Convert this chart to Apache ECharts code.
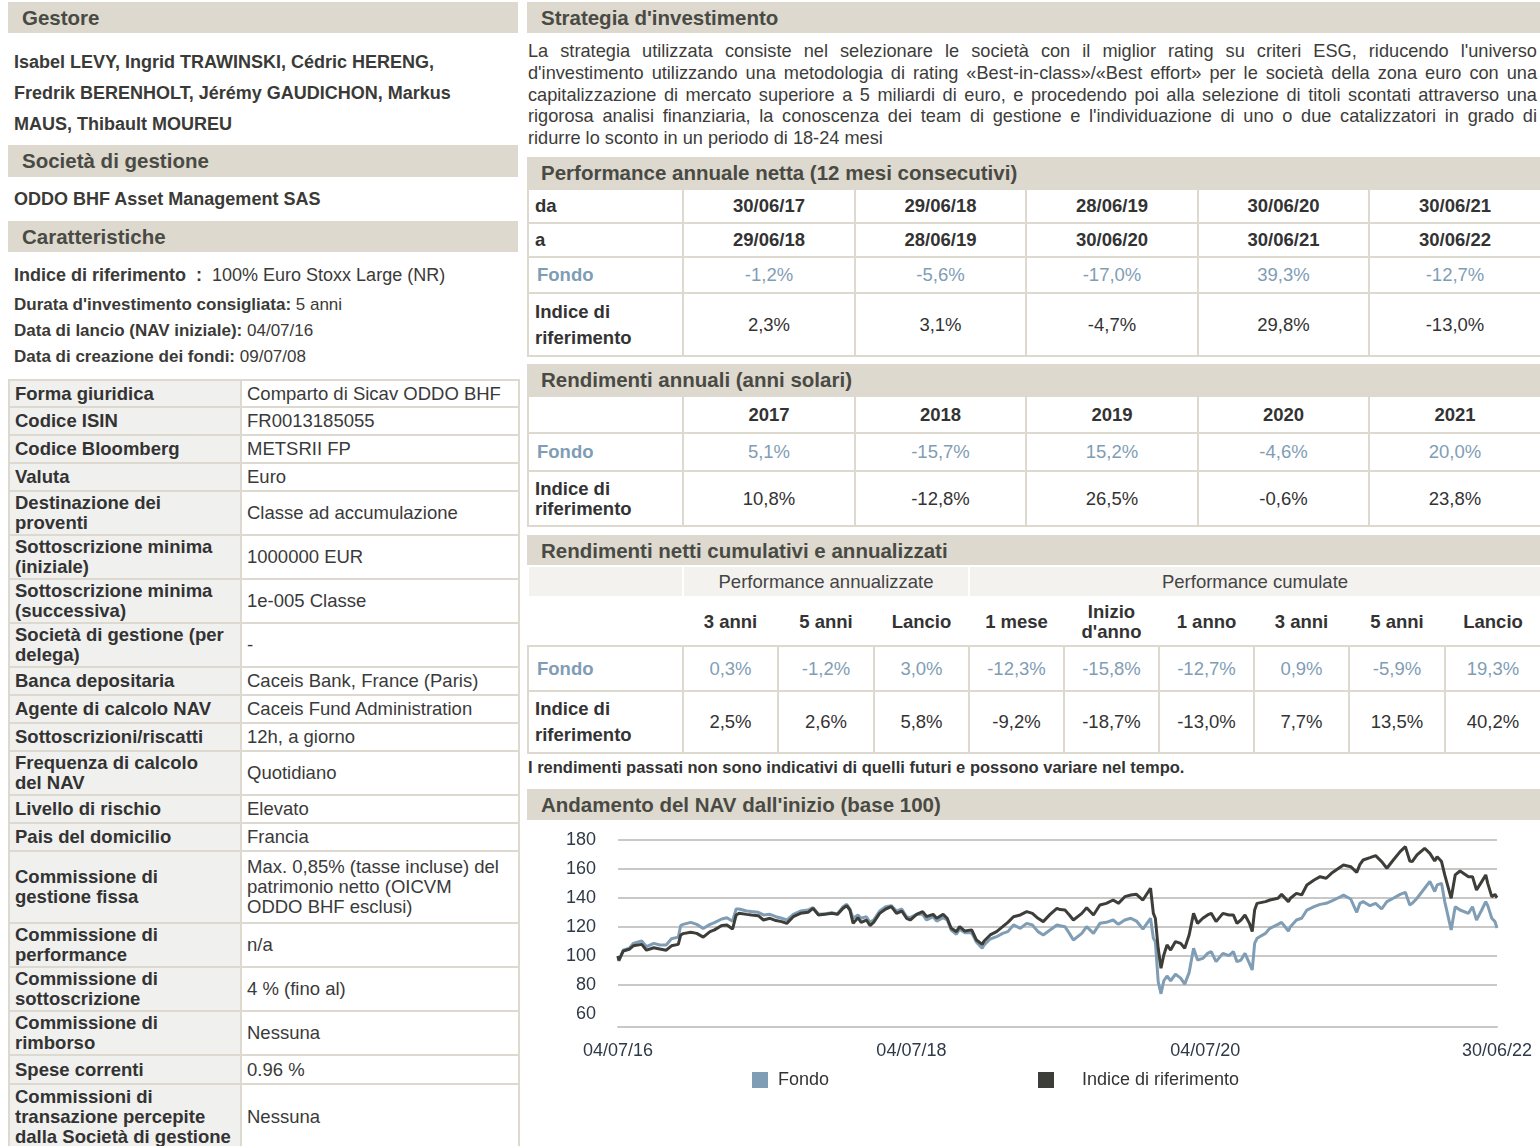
<!DOCTYPE html>
<html>
<head>
<meta charset="utf-8">
<script src="https://cdn.jsdelivr.net/npm/echarts@6/dist/echarts.min.js"></script>
<style>
body { margin: 0; width: 1540px; height: 1146px; overflow: hidden; background: #fff; font-family: "Liberation Sans", Arial, sans-serif; color: #3a3a37; position: relative; }
.hdr { position: absolute; background: #ddd9ce; font-weight: bold; font-size: 20.5px; color: #4a4a44; padding-left: 14px; box-sizing: border-box; }
.txt { position: absolute; font-size: 18px; white-space: nowrap; }
.b { font-weight: bold; }
.para { position: absolute; left: 528px; width: 1009px; font-size: 18.2px; line-height: 21.75px; color: #3c3c3a; }
.para div { text-align: justify; text-align-last: justify; height: 21.75px; }
.para div.last { text-align-last: left; }
table { position: absolute; border-collapse: collapse; table-layout: fixed; font-size: 18.5px; }
.lt td { border: 2px solid #ddd9ce; padding: 0 5px; line-height: 20px; vertical-align: middle; }
.lt td.l { background: #f0f0ee; font-weight: bold; color: #333; }
.lt td.v { background: #fff; color: #3a3a3a; }
.rt td { border: 2px solid #ddd9ce; text-align: center; vertical-align: middle; padding: 0; color: #333; }
.rt td.l { text-align: left; padding-left: 6px; font-weight: bold; line-height: 26px; }
.rt .h { font-weight: bold; }
.rt .f { color: #7f9db5; }
.rt td.fl { color: #7f9db5; font-weight: bold; text-align: left; padding-left: 8px; }
.nt tr.g td { background: #f3f2ee; border: 2px solid #fff; color: #444; font-weight: normal; }
.nt tr.c td { border: none; font-weight: bold; line-height: 20px; }
#chart { position: absolute; left: 528px; top: 820px; width: 1012px; height: 326px; }
</style>
</head>
<body>

<!-- colonna sinistra -->
<div class="hdr" style="left:8px;top:2px;width:510px;height:31px;line-height:31px">Gestore</div>
<div class="txt b" style="left:14px;top:51px;line-height:22px">Isabel LEVY, Ingrid TRAWINSKI, Cédric HERENG,</div>
<div class="txt b" style="left:14px;top:82px;line-height:22px">Fredrik BERENHOLT, Jérémy GAUDICHON, Markus</div>
<div class="txt b" style="left:14px;top:113px;line-height:22px">MAUS, Thibault MOUREU</div>
<div class="hdr" style="left:8px;top:145px;width:510px;height:32px;line-height:32px">Società di gestione</div>
<div class="txt b" style="left:14px;top:188px;line-height:22px">ODDO BHF Asset Management SAS</div>
<div class="hdr" style="left:8px;top:221px;width:510px;height:31px;line-height:31px">Caratteristiche</div>
<div class="txt" style="left:14px;top:264px;line-height:22px"><span class="b">Indice di riferimento&nbsp; :</span>&nbsp; 100% Euro Stoxx Large (NR)</div>
<div class="txt" style="left:14px;top:294px;line-height:22px;font-size:17px"><span class="b">Durata d'investimento consigliata:</span> 5 anni</div>
<div class="txt" style="left:14px;top:320px;line-height:22px;font-size:17px"><span class="b">Data di lancio (NAV iniziale):</span> 04/07/16</div>
<div class="txt" style="left:14px;top:346px;line-height:22px;font-size:17px"><span class="b">Data di creazione dei fondi:</span> 09/07/08</div>

<table class="lt" style="left:8px;top:379px;width:510px">
<colgroup><col style="width:232px"><col style="width:278px"></colgroup>
<tr style="height:27px"><td class="l">Forma giuridica</td><td class="v">Comparto di Sicav ODDO BHF</td></tr>
<tr style="height:28px"><td class="l">Codice ISIN</td><td class="v">FR0013185055</td></tr>
<tr style="height:28px"><td class="l">Codice Bloomberg</td><td class="v">METSRII FP</td></tr>
<tr style="height:28px"><td class="l">Valuta</td><td class="v">Euro</td></tr>
<tr style="height:44px"><td class="l">Destinazione dei<br>proventi</td><td class="v">Classe ad accumulazione</td></tr>
<tr style="height:44px"><td class="l">Sottoscrizione minima<br>(iniziale)</td><td class="v">1000000 EUR</td></tr>
<tr style="height:44px"><td class="l">Sottoscrizione minima<br>(successiva)</td><td class="v">1e-005 Classe</td></tr>
<tr style="height:44px"><td class="l">Società di gestione (per<br>delega)</td><td class="v">-</td></tr>
<tr style="height:28px"><td class="l">Banca depositaria</td><td class="v">Caceis Bank, France (Paris)</td></tr>
<tr style="height:28px"><td class="l">Agente di calcolo NAV</td><td class="v">Caceis Fund Administration</td></tr>
<tr style="height:28px"><td class="l">Sottoscrizioni/riscatti</td><td class="v">12h, a giorno</td></tr>
<tr style="height:44px"><td class="l">Frequenza di calcolo<br>del NAV</td><td class="v">Quotidiano</td></tr>
<tr style="height:28px"><td class="l">Livello di rischio</td><td class="v">Elevato</td></tr>
<tr style="height:28px"><td class="l">Pais del domicilio</td><td class="v">Francia</td></tr>
<tr style="height:72px"><td class="l">Commissione di<br>gestione fissa</td><td class="v">Max. 0,85% (tasse incluse) del<br>patrimonio netto (OICVM<br>ODDO BHF esclusi)</td></tr>
<tr style="height:44px"><td class="l">Commissione di<br>performance</td><td class="v">n/a</td></tr>
<tr style="height:44px"><td class="l">Commissione di<br>sottoscrizione</td><td class="v">4 % (fino al)</td></tr>
<tr style="height:44px"><td class="l">Commissione di<br>rimborso</td><td class="v">Nessuna</td></tr>
<tr style="height:29px"><td class="l">Spese correnti</td><td class="v">0.96 %</td></tr>
<tr style="height:66px"><td class="l">Commissioni di<br>transazione percepite<br>dalla Società di gestione</td><td class="v">Nessuna</td></tr>
</table>

<!-- colonna destra -->
<div class="hdr" style="left:527px;top:2px;width:1013px;height:31px;line-height:31px">Strategia d'investimento</div>
<div class="para" style="top:41px">
<div>La strategia utilizzata consiste nel selezionare le società con il miglior rating su criteri ESG, riducendo l'universo</div>
<div>d'investimento utilizzando una metodologia di rating «Best-in-class»/«Best effort» per le società della zona euro con una</div>
<div>capitalizzazione di mercato superiore a 5 miliardi di euro, e procedendo poi alla selezione di titoli scontati attraverso una</div>
<div>rigorosa analisi finanziaria, la conoscenza dei team di gestione e l'individuazione di uno o due catalizzatori in grado di</div>
<div class="last">ridurre lo sconto in un periodo di 18-24 mesi</div>
</div>

<div class="hdr" style="left:527px;top:157px;width:1013px;height:31px;line-height:31px">Performance annuale netta (12 mesi consecutivi)</div>
<table class="rt" style="left:527px;top:188px;width:1013px">
<colgroup><col style="width:155px"><col style="width:172px"><col style="width:171px"><col style="width:172px"><col style="width:171px"><col style="width:172px"></colgroup>
<tr style="height:34px"><td class="l">da</td><td class="h">30/06/17</td><td class="h">29/06/18</td><td class="h">28/06/19</td><td class="h">30/06/20</td><td class="h">30/06/21</td></tr>
<tr style="height:34px"><td class="l">a</td><td class="h">29/06/18</td><td class="h">28/06/19</td><td class="h">30/06/20</td><td class="h">30/06/21</td><td class="h">30/06/22</td></tr>
<tr style="height:36px"><td class="fl">Fondo</td><td class="f">-1,2%</td><td class="f">-5,6%</td><td class="f">-17,0%</td><td class="f">39,3%</td><td class="f">-12,7%</td></tr>
<tr style="height:63px"><td class="l">Indice di<br>riferimento</td><td>2,3%</td><td>3,1%</td><td>-4,7%</td><td>29,8%</td><td>-13,0%</td></tr>
</table>

<div class="hdr" style="left:527px;top:364px;width:1013px;height:31px;line-height:31px">Rendimenti annuali (anni solari)</div>
<table class="rt" style="left:527px;top:395px;width:1013px">
<colgroup><col style="width:155px"><col style="width:172px"><col style="width:171px"><col style="width:172px"><col style="width:171px"><col style="width:172px"></colgroup>
<tr style="height:37px"><td class="l"></td><td class="h">2017</td><td class="h">2018</td><td class="h">2019</td><td class="h">2020</td><td class="h">2021</td></tr>
<tr style="height:38px"><td class="fl">Fondo</td><td class="f">5,1%</td><td class="f">-15,7%</td><td class="f">15,2%</td><td class="f">-4,6%</td><td class="f">20,0%</td></tr>
<tr style="height:55px"><td class="l" style="line-height:20px">Indice di<br>riferimento</td><td>10,8%</td><td>-12,8%</td><td>26,5%</td><td>-0,6%</td><td>23,8%</td></tr>
</table>

<div class="hdr" style="left:527px;top:535px;width:1013px;height:31px;line-height:31px">Rendimenti netti cumulativi e annualizzati</div>
<table class="rt nt" style="left:527px;top:565px;width:1013px">
<colgroup><col style="width:155px"><col style="width:95px"><col style="width:96px"><col style="width:95px"><col style="width:95px"><col style="width:95px"><col style="width:95px"><col style="width:95px"><col style="width:96px"><col style="width:96px"></colgroup>
<tr class="g" style="height:31px"><td></td><td colspan="3">Performance annualizzate</td><td colspan="6">Performance cumulate</td></tr>
<tr class="c" style="height:49px"><td></td><td>3 anni</td><td>5 anni</td><td>Lancio</td><td>1 mese</td><td>Inizio<br>d'anno</td><td>1 anno</td><td>3 anni</td><td>5 anni</td><td>Lancio</td></tr>
<tr style="height:45px"><td class="fl">Fondo</td><td class="f">0,3%</td><td class="f">-1,2%</td><td class="f">3,0%</td><td class="f">-12,3%</td><td class="f">-15,8%</td><td class="f">-12,7%</td><td class="f">0,9%</td><td class="f">-5,9%</td><td class="f">19,3%</td></tr>
<tr style="height:62px"><td class="l">Indice di<br>riferimento</td><td>2,5%</td><td>2,6%</td><td>5,8%</td><td>-9,2%</td><td>-18,7%</td><td>-13,0%</td><td>7,7%</td><td>13,5%</td><td>40,2%</td></tr>
</table>

<div class="txt b" style="left:528px;top:757px;line-height:20px;font-size:16.5px;color:#333">I rendimenti passati non sono indicativi di quelli futuri e possono variare nel tempo.</div>

<div class="hdr" style="left:527px;top:789px;width:1013px;height:31px;line-height:31px">Andamento del NAV dall'inizio (base 100)</div>
<div id="chart"></div>

<script>
// date dei punti (base 100 al 04/07/16)
var dates = [
  '2016-07-04','2016-07-06','2016-07-17','2016-08-01','2016-08-11','2016-09-01','2016-09-13','2016-10-01','2016-10-16','2016-11-01',
  '2016-11-14','2016-12-01','2016-12-07','2016-12-13','2017-01-01','2017-01-16','2017-02-01','2017-02-18','2017-03-01','2017-03-19',
  '2017-04-01','2017-04-15','2017-04-24','2017-05-01','2017-05-20','2017-06-01','2017-06-18','2017-07-01','2017-07-17','2017-08-01',
  '2017-08-15','2017-08-28','2017-09-13','2017-10-01','2017-10-20','2017-11-01','2017-11-15','2017-12-01','2017-12-18','2018-01-01',
  '2018-01-15','2018-01-24','2018-02-01','2018-02-09','2018-02-21','2018-03-01','2018-03-14','2018-03-23','2018-04-01','2018-04-16',
  '2018-05-01','2018-05-15','2018-05-28','2018-06-01','2018-06-10','2018-06-22','2018-07-01','2018-07-17','2018-08-01','2018-08-11',
  '2018-08-27','2018-09-05','2018-09-21','2018-10-01','2018-10-11','2018-10-24','2018-11-01','2018-11-14','2018-12-01','2018-12-13',
  '2018-12-27','2019-01-01','2019-01-16','2019-02-01','2019-02-16','2019-03-01','2019-03-15','2019-04-01','2019-04-17','2019-05-01',
  '2019-05-15','2019-05-28','2019-06-14','2019-07-01','2019-07-09','2019-07-21','2019-08-01','2019-08-11','2019-09-01','2019-09-13',
  '2019-09-30','2019-10-16','2019-11-01','2019-11-18','2019-12-01','2019-12-17','2020-01-01','2020-01-15','2020-01-31','2020-02-19',
  '2020-02-26','2020-03-02','2020-03-09','2020-03-16','2020-03-23','2020-03-31','2020-04-09','2020-04-21','2020-05-04','2020-05-14',
  '2020-05-25','2020-06-05','2020-06-15','2020-06-28','2020-07-10','2020-07-19','2020-07-31','2020-08-17','2020-09-01','2020-09-12',
  '2020-09-21','2020-10-01','2020-10-11','2020-10-22','2020-10-29','2020-11-04','2020-11-10','2020-12-01','2020-12-12','2021-01-01',
  '2021-01-10','2021-01-27','2021-02-01','2021-02-16','2021-03-01','2021-03-14','2021-04-01','2021-04-16','2021-05-01','2021-05-14',
  '2021-06-01','2021-06-13','2021-07-01','2021-07-16','2021-07-24','2021-08-01','2021-08-18','2021-09-01','2021-09-16','2021-09-29',
  '2021-10-15','2021-11-01','2021-11-14','2021-11-25','2021-12-01','2021-12-13','2022-01-01','2022-01-14','2022-01-26','2022-02-01',
  '2022-02-12','2022-02-20','2022-03-08','2022-03-18','2022-03-30','2022-04-20','2022-04-30','2022-05-10','2022-05-23','2022-06-02',
  '2022-06-07','2022-06-17','2022-06-25','2022-06-30'
];
var fondo = [
  100,96.5,104,105.3,108.7,110.3,106.4,108.7,107.6,107.6,
  111.9,113,121,121.8,123.2,121.8,119,121.8,123,125.5,
  126.4,124,132.4,132.4,131,130.6,130.1,128.3,128.7,127.1,
  126,124.8,128.7,131,131.7,133.3,128.8,129.2,129.8,129,
  134,135.6,132.4,126,128.3,126,127.1,123.2,124.8,131,
  134,134.7,131,131,132.4,127.1,126.4,128.7,128.7,124.8,
  127.1,124,126.4,124.8,117.9,115,118.4,116,116,109.4,
  105.3,107.6,111.7,113.3,115.6,116.8,121.4,119.1,122.5,121.4,
  116.8,114.5,117.9,121.4,120.8,120.2,115.6,111,115.6,120.2,
  115.6,122.5,123.2,124.8,121.8,124.8,126,124.1,118.6,126,
  112.2,109.9,82.3,73.9,82.9,86.2,82.9,87.4,84.7,80.6,
  88.5,105.3,97.2,98.3,101.8,103,96.1,101.8,100.2,103,
  96.1,97.2,101.8,94.9,90.3,108.7,112.2,115.6,119.1,121.8,
  123.2,117.2,120.2,124.8,126,131.7,134,135.6,136.3,137.9,
  140.2,142,139.3,130.1,136.3,137.5,134.7,136.3,132.4,137.5,
  139.8,142.5,143.9,135.2,136.3,139.8,146.7,151.5,144.4,149,
  150.1,137.5,118,134,131.7,129.4,134,124.8,131.7,137.5,
  134.7,126,123.7,119.3
];
var indice = [
  100,97,103.4,104.6,107,108,104,105.7,104.8,104,
  107,108,114.5,115.4,116.3,115.6,113,116.8,118,121,
  121.4,118.6,128.3,129.4,128.7,128.3,127.8,124.8,126,124.4,
  123.7,122.5,127.1,129.4,130.1,132.9,128.3,128.7,129.4,128.7,
  132.9,134.7,131.7,122.5,126.4,123.2,124.8,121,123.2,129.4,
  132.4,134,129.4,130.1,131,126,124.8,128.7,130.6,127.1,
  128.7,126,128.7,126,119.1,116.8,120.2,117.2,118,111,
  108,110.3,114.5,116.8,120.2,123.2,127.1,128.3,130.6,129.4,
  126,123.7,128.7,132.9,132,131.7,128.3,124.8,129.4,133.3,
  128.3,135.2,136.3,138.6,136.3,140.9,142.1,142.5,138.6,146.7,
  129.4,126,105.3,91.5,100.7,107.6,104.1,109.9,108.7,105.3,
  114.5,129.4,122.5,126,128.3,129.4,123.7,129.4,128.3,128.3,
  122.5,124.8,128.3,122.5,116.8,131.7,136.3,137.5,138.6,139.8,
  142.5,137.5,139.8,143.2,142.1,149,152.4,154.7,153.6,157,
  160.5,162.8,161.6,157.7,163.2,166.2,167.8,169.2,165.1,160.5,
  166.2,172,175.4,165.5,165.1,169.7,174.3,170.8,165.5,168.5,
  165.1,155.9,139.8,155.9,158.6,154.7,154.7,145.5,151.3,155.9,
  150.1,140.9,142.5,140.2
];
var xLabelDates = ['2016-07-04', '2018-07-04', '2020-07-04', '2022-06-30'];
var yLabels = [60, 80, 100, 120, 140, 160, 180];
var yGrid = [80, 100, 120, 140, 160, 180];

function ts(s) {
  var p = s.split('-');
  return Date.UTC(+p[0], +p[1] - 1, +p[2]);
}
function pad(n) { return n < 10 ? '0' + n : '' + n; }

var fondoData = dates.map(function (d, i) { return [ts(d), fondo[i]]; });
var indiceData = dates.map(function (d, i) { return [ts(d), indice[i]]; });

var chart = echarts.init(document.getElementById('chart'));
chart.setOption({
  animation: false,
  textStyle: { fontFamily: '"Liberation Sans", Arial, sans-serif' },
  grid: { left: 90, right: 43, top: 20, bottom: 119 },
  legend: [
    {
      left: 219, top: 246, icon: 'rect', itemWidth: 16, itemHeight: 16,
      data: ['Fondo'],
      textStyle: { fontSize: 18, color: '#333', padding: [0, 0, 0, 5] }
    },
    {
      left: 505, top: 246, icon: 'rect', itemWidth: 16, itemHeight: 16,
      data: ['Indice di riferimento'],
      textStyle: { fontSize: 18, color: '#333', padding: [0, 0, 0, 23] }
    }
  ],
  xAxis: {
    type: 'value',
    min: ts('2016-07-04'),
    max: ts('2022-06-30'),
    axisLine: { show: true, lineStyle: { color: '#c8c8c8', width: 2 } },
    axisTick: { show: false },
    splitLine: { show: false },
    axisLabel: {
      customValues: xLabelDates.map(ts),
      margin: 15,
      fontSize: 18,
      color: '#2f3a48',
      formatter: function (v) {
        var d = new Date(v);
        return pad(d.getUTCDate()) + '/' + pad(d.getUTCMonth() + 1) + '/' + pad(d.getUTCFullYear() % 100);
      }
    }
  },
  yAxis: {
    type: 'value',
    min: 51,
    max: 180,
    axisLine: { show: false },
    axisTick: { show: false, customValues: yGrid },
    splitLine: { show: true, lineStyle: { color: '#c8c8c8', width: 2 } },
    axisLabel: { customValues: yLabels, margin: 22, fontSize: 18, color: '#2f3a48' }
  },
  series: [
    {
      name: 'Fondo', type: 'line', data: fondoData, showSymbol: false,
      lineStyle: { color: '#7f9db5', width: 3 }, itemStyle: { color: '#7f9db5' }
    },
    {
      name: 'Indice di riferimento', type: 'line', data: indiceData, showSymbol: false,
      lineStyle: { color: '#3d3e39', width: 3 }, itemStyle: { color: '#3d3e39' }
    }
  ]
});
</script>
</body>
</html>
